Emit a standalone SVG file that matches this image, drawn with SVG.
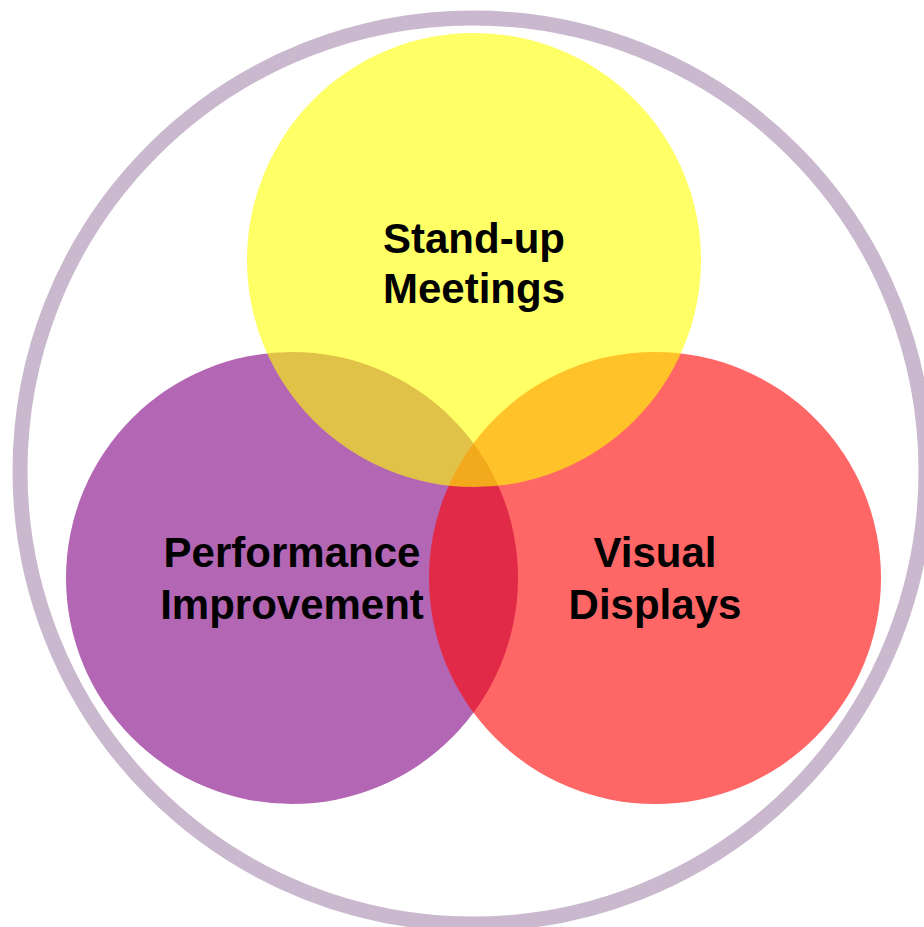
<svg xmlns="http://www.w3.org/2000/svg" width="924" height="927" viewBox="0 0 924 927">
<style>
.lbl{font-family:"Liberation Sans",Arial,sans-serif;font-weight:bold;font-size:42px;fill:#000;text-anchor:middle}
.c{fill-opacity:0.6}
</style>
<rect width="924" height="927" fill="#fff"/>
<g id="outer"><circle cx="473" cy="471" r="453" fill="none" stroke="#CAB9CE" stroke-width="15"/></g>
<g id="performance"><circle class="c" cx="292" cy="578" r="226" fill="#800080"/></g>
<g id="visual"><circle class="c" cx="655" cy="578" r="226" fill="#FF0000"/></g>
<g id="standup"><circle class="c" cx="474" cy="260" r="227" fill="#FFFF00"/></g>
<g id="labels">
<text class="lbl" x="474" y="253">Stand-up</text>
<text class="lbl" x="474" y="303">Meetings</text>
<text class="lbl" x="292" y="567">Performance</text>
<text class="lbl" x="292" y="619">Improvement</text>
<text class="lbl" x="655" y="567">Visual</text>
<text class="lbl" x="655" y="619">Displays</text>
</g>
<g id="connectors"></g>
</svg>
